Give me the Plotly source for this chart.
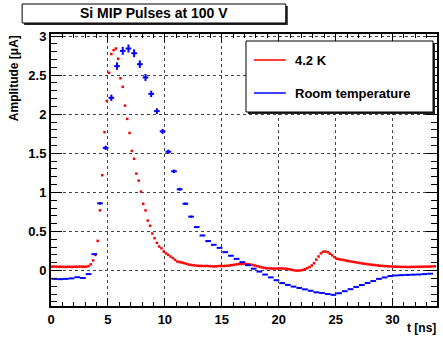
import plotly.graph_objects as go

# ---------------- data ----------------
t_cold = [0.1, 0.3, 0.5, 0.7, 0.9, 1.1, 1.3, 1.5, 1.7, 1.9, 2.1, 2.3, 2.5, 2.7, 2.9, 3.1,
          3.3, 3.5, 3.7, 3.9, 4.1, 4.3, 4.5, 4.7, 4.9, 5.1, 5.3, 5.5, 5.7, 5.9, 6.1, 6.3,
          6.5, 6.7, 6.9, 7.1, 7.3, 7.5, 7.7, 7.9, 8.1, 8.3, 8.5, 8.7, 8.9, 9.1, 9.3, 9.5,
          9.7, 9.9, 10.1, 10.3, 10.5, 10.7, 10.9, 11.1, 11.3, 11.5, 11.7, 11.9, 12.1, 12.3,
          12.5, 12.7, 12.9, 13.1, 13.3, 13.5, 13.7, 13.9, 14.1, 14.3, 14.5, 14.7, 14.9, 15.1,
          15.3, 15.5, 15.7, 15.9, 16.1, 16.3, 16.5, 16.7, 16.9, 17.1, 17.3, 17.5, 17.7, 17.9,
          18.1, 18.3, 18.5, 18.7, 18.9, 19.1, 19.3, 19.5, 19.7, 19.9, 20.1, 20.3, 20.5, 20.7,
          20.9, 21.1, 21.3, 21.5, 21.7, 21.9, 22.1, 22.3, 22.5, 22.7, 22.9, 23.1, 23.3, 23.5,
          23.7, 23.9, 24.1, 24.3, 24.5, 24.7, 24.9, 25.1, 25.3, 25.5, 25.7, 25.9, 26.1, 26.3,
          26.5, 26.7, 26.9, 27.1, 27.3, 27.5, 27.7, 27.9, 28.1, 28.3, 28.5, 28.7, 28.9, 29.1,
          29.3, 29.5, 29.7, 29.9, 30.1, 30.3, 30.5, 30.7, 30.9, 31.1, 31.3, 31.5, 31.7, 31.9,
          32.1, 32.3, 32.5, 32.7, 32.9, 33.1, 33.3, 33.5, 33.7]
a_cold = [0.050, 0.052, 0.050, 0.048, 0.050, 0.047, 0.046, 0.050, 0.048, 0.046, 0.050, 0.048,
          0.052, 0.050, 0.050, 0.049, 0.058, 0.080, 0.130, 0.200, 0.380, 0.770, 1.220, 1.770,
          2.170, 2.530, 2.770, 2.820, 2.840, 2.710, 2.460, 2.350, 2.110, 1.940, 1.760, 1.530,
          1.430, 1.240, 1.150, 1.010, 0.855, 0.770, 0.640, 0.573, 0.475, 0.415, 0.355, 0.308,
          0.285, 0.244, 0.220, 0.200, 0.180, 0.160, 0.137, 0.115, 0.108, 0.103, 0.095, 0.086,
          0.077, 0.073, 0.069, 0.064, 0.062, 0.060, 0.060, 0.058, 0.060, 0.057, 0.055, 0.052,
          0.055, 0.058, 0.060, 0.058, 0.060, 0.062, 0.066, 0.070, 0.075, 0.080, 0.083, 0.085,
          0.086, 0.085, 0.082, 0.077, 0.072, 0.065, 0.058, 0.050, 0.042, 0.035, 0.030, 0.028,
          0.027, 0.026, 0.026, 0.027, 0.028, 0.027, 0.025, 0.022, 0.018, 0.012, 0.005, 0.000,
          0.000, 0.002, 0.008, 0.018, 0.030, 0.045, 0.065, 0.095, 0.140, 0.180, 0.220, 0.240,
          0.245, 0.235, 0.215, 0.195, 0.170, 0.152, 0.145, 0.140, 0.135, 0.128, 0.122, 0.117,
          0.112, 0.108, 0.102, 0.097, 0.092, 0.088, 0.084, 0.080, 0.076, 0.073, 0.070, 0.066,
          0.062, 0.060, 0.058, 0.056, 0.054, 0.052, 0.050, 0.050, 0.049, 0.048, 0.047, 0.047,
          0.046, 0.046, 0.047, 0.047, 0.048, 0.048, 0.049, 0.050, 0.050, 0.051, 0.052, 0.053,
          0.055]

t_room = [0.3, 0.8, 1.3, 1.8, 2.3, 2.8, 3.3, 3.8, 4.3, 4.8, 5.3, 5.8, 6.3, 6.8, 7.3, 7.8,
          8.3, 8.8, 9.3, 9.8, 10.3, 10.8, 11.3, 11.8, 12.3, 12.8, 13.3, 13.8, 14.3, 14.8,
          15.3, 15.8, 16.3, 16.8, 17.3, 17.8, 18.3, 18.8, 19.3, 19.8, 20.3, 20.8, 21.3, 21.8,
          22.3, 22.8, 23.3, 23.8, 24.3, 24.8, 25.3, 25.8, 26.3, 26.8, 27.3, 27.8, 28.3, 28.8,
          29.3, 29.8, 30.3, 30.8, 31.3, 31.8, 32.3, 32.8, 33.3]
a_room = [-0.106, -0.110, -0.106, -0.100, -0.085, -0.095, -0.045, 0.210, 0.860, 1.570, 2.210,
          2.615, 2.810, 2.840, 2.780, 2.640, 2.470, 2.260, 2.040, 1.780, 1.520, 1.270, 1.040,
          0.855, 0.690, 0.556, 0.449, 0.377, 0.330, 0.291, 0.236, 0.190, 0.150, 0.108, 0.069,
          0.024, -0.013, -0.051, -0.087, -0.123, -0.160, -0.183, -0.205, -0.222, -0.240,
          -0.258, -0.278, -0.286, -0.300, -0.310, -0.290, -0.264, -0.238, -0.209, -0.185,
          -0.158, -0.134, -0.106, -0.088, -0.070, -0.062, -0.058, -0.055, -0.052, -0.050,
          -0.045, -0.040]
room_terr = [0.25] * len(t_room)

title_text = "Si MIP Pulses at 100 V"
legend_names = ["4.2 K", "Room temperature"]
x_title = "t [ns]"
y_title = "Amplitude [μA]"

FONT = "Liberation Sans"
W, H = 443, 338
ML, MR, MT, MB = 51, 4, 34, 32
PW, PH = W - ML - MR, H - MT - MB


def px(x):
    return (x - ML) / PW


def py(y):
    return (H - MB - y) / PH


fig = go.Figure()

fig.add_trace(go.Scatter(
    x=t_cold, y=a_cold, mode="markers", name=legend_names[0],
    marker=dict(color="red", size=2.5, symbol="square", line=dict(width=0)),
    showlegend=False, cliponaxis=True,
))

fig.add_trace(go.Scatter(
    x=t_room, y=a_room, mode="markers", name=legend_names[1],
    marker=dict(color="blue", size=1, line=dict(width=0)),
    error_x=dict(type="data", array=room_terr, symmetric=True, color="blue", thickness=2, width=0),
    error_y=dict(type="percent", value=1.8, color="blue", thickness=2, width=0),
    showlegend=False,
))

axis_common = dict(
    showline=True, linecolor="black", linewidth=2, mirror="ticks",
    ticks="inside", tickcolor="black", tickwidth=1,
    showgrid=True, gridcolor="#444", gridwidth=1, griddash="dot",
    zeroline=False,
    tickfont=dict(family=FONT, size=13, color="black", weight="bold"),
)

fig.update_xaxes(
    range=[0, 33.9], tick0=0, dtick=5, ticklen=8,
    minor=dict(dtick=1, ticklen=4, ticks="inside", tickcolor="black", showgrid=False),
    **axis_common,
)
fig.update_yaxes(
    range=[-0.453, 3.026], tick0=0, dtick=0.5, ticklen=11,
    minor=dict(dtick=0.1, ticklen=6, ticks="inside", tickcolor="black", showgrid=False),
    **axis_common,
)

shapes = []
annotations = []

# Title box with shadow
shapes.append(dict(type="rect", xref="paper", yref="paper",
                   x0=px(24), x1=px(289), y0=py(25), y1=py(6),
                   fillcolor="#222", line=dict(width=0), layer="above"))
shapes.append(dict(type="rect", xref="paper", yref="paper",
                   x0=px(22), x1=px(287), y0=py(23), y1=py(4),
                   fillcolor="white", line=dict(color="black", width=1), layer="above"))
annotations.append(dict(text="<b>%s</b>" % title_text, xref="paper", yref="paper",
                        x=px(154.5), y=py(13.5), xanchor="center", yanchor="middle",
                        showarrow=False, font=dict(family=FONT, size=14, color="black")))

# Legend box with shadow
shapes.append(dict(type="rect", xref="paper", yref="paper",
                   x0=px(249), x1=px(437), y0=py(114), y1=py(43),
                   fillcolor="#222", line=dict(width=0), layer="above"))
shapes.append(dict(type="rect", xref="paper", yref="paper",
                   x0=px(247), x1=px(435), y0=py(112), y1=py(41),
                   fillcolor="white", line=dict(color="black", width=1), layer="above"))
for name, color, yc in [(legend_names[0], "red", 60), (legend_names[1], "blue", 93)]:
    shapes.append(dict(type="line", xref="paper", yref="paper",
                       x0=px(255), x1=px(287), y0=py(yc), y1=py(yc),
                       line=dict(color=color, width=1.5), layer="above"))
    annotations.append(dict(text="<b>%s</b>" % name, xref="paper", yref="paper",
                            x=px(294), y=py(yc), xanchor="left", yanchor="middle",
                            showarrow=False, font=dict(family=FONT, size=13, color="black")))

# Axis titles
annotations.append(dict(text="<b>%s</b>" % x_title, xref="paper", yref="paper",
                        x=px(440), y=py(328), xanchor="right", yanchor="middle",
                        showarrow=False, font=dict(family=FONT, size=12, color="black")))
annotations.append(dict(text="<b>%s</b>" % y_title, xref="paper", yref="paper",
                        x=px(14), y=py(33), xanchor="center", yanchor="top", textangle=-90,
                        showarrow=False, font=dict(family=FONT, size=12, color="black")))

fig.update_layout(
    width=W, height=H,
    margin=dict(l=ML, r=MR, t=MT, b=MB, pad=0),
    paper_bgcolor="white", plot_bgcolor="white",
    shapes=shapes, annotations=annotations,
    showlegend=False,
)

fig.write_html("out.html")
